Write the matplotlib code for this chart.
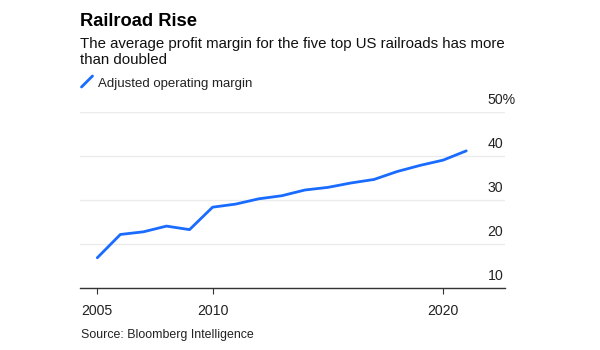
import matplotlib
matplotlib.use("Agg")
import matplotlib.pyplot as plt
import matplotlib.transforms as mtransforms
from matplotlib.lines import Line2D

years = [2005, 2006, 2007, 2008, 2009, 2010, 2011, 2012, 2013, 2014,
         2015, 2016, 2017, 2018, 2019, 2020, 2021]
margin = [16.8, 22.1, 22.7, 24.0, 23.2, 28.3, 29.0, 30.2, 30.9, 32.2,
          32.8, 33.8, 34.6, 36.4, 37.8, 39.0, 41.1]
yticks = [10, 20, 30, 40, 50]
ytick_labels = ["10", "20", "30", "40", "50%"]
xticks = [2005, 2010, 2020]
xtick_labels = ["2005", "2010", "2020"]

title = "Railroad Rise"
subtitle = "The average profit margin for the five top US railroads has more\nthan doubled"
legend_label = "Adjusted operating margin"
source = "Source: Bloomberg Intelligence"

plt.rcParams['font.family'] = ['Liberation Sans', 'DejaVu Sans']

W, H = 600, 350
fig = plt.figure(figsize=(6, 3.5), dpi=100)
ax = fig.add_axes([80 / W, 1 - 287.7 / H, 425 / W, 176 / H])

blue = '#1a6bff'
ax.plot(years, margin, color=blue, lw=2.0, solid_capstyle='round', zorder=3)

ax.set_xlim(2004.25, 2022.68)
ax.set_ylim(10, 50)

for s in ['top', 'left', 'right']:
    ax.spines[s].set_visible(False)
ax.spines['bottom'].set_color('#333333')
ax.spines['bottom'].set_linewidth(1.0)

ax.set_yticks(yticks)
ax.set_yticklabels(ytick_labels)
ax.yaxis.tick_right()
ax.tick_params(axis='y', length=0, pad=-12.5, labelsize=10.2, labelcolor='#222222')
ax.grid(axis='y', color='#ebebeb', lw=1.0, zorder=0)

ax.set_xticks(xticks)
ax.set_xticklabels(xtick_labels)
ax.tick_params(axis='x', length=4.5, width=0.8, color='#333333', pad=7,
               labelsize=10.2, labelcolor='#222222')

offset = mtransforms.ScaledTranslation(0, 5 / 100, fig.dpi_scale_trans)
for lab in ax.get_yticklabels():
    lab.set_horizontalalignment('left')
    lab.set_verticalalignment('bottom')
    lab.set_transform(lab.get_transform() + offset)

fig.text(80 / W, 1 - 26.5 / H, title, fontsize=13.2, fontweight='bold',
         color='#000000', va='baseline', ha='left')
fig.text(80 / W, 1 - 64.3 / H, subtitle, fontsize=10.85, color='#111111',
         va='baseline', ha='left', linespacing=1.22)
# legend
fig.add_artist(Line2D([81.5 / W, 92.5 / W], [1 - 87 / H, 1 - 76 / H],
                      color=blue, lw=2.0, solid_capstyle='round'))
fig.text(98.3 / W, 1 - 86.7 / H, legend_label, fontsize=9.5, color='#222222',
         va='baseline', ha='left')
fig.text(80.7 / W, 1 - 338 / H, source, fontsize=8.95, color='#222222',
         va='baseline', ha='left')

fig.savefig('out.png', dpi=100)
